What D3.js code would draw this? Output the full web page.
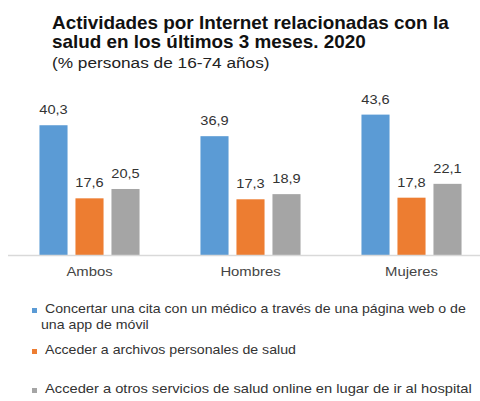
<!DOCTYPE html>
<html>
<head>
<meta charset="utf-8">
<script src="https://cdn.jsdelivr.net/npm/d3@7"></script>
<style>
  html, body { margin: 0; padding: 0; background: #fff; }
  svg { display: block; font-family: 'Liberation Sans', Arial, sans-serif; }
</style>
</head>
<body>
<div id="chart"></div>
<script>
// datos ---------------------------------------------------------------
const categorias = ['Ambos', 'Hombres', 'Mujeres'];
const series = ['cita', 'archivos', 'otros'];
const valoresCita = [40.3, 36.9, 43.6];
const valoresArchivos = [17.6, 17.3, 17.8];
const valoresOtros = [20.5, 18.9, 22.1];
const leyenda = [
  ['Concertar una cita con un médico a través de una página web o de', 'una app de móvil'],
  ['Acceder a archivos personales de salud'],
  ['Acceder a otros servicios de salud online en lugar de ir al hospital']
];
const colores = ['#5B9BD5', '#ED7D31', '#A5A5A5'];

const width = 480;
const height = 401;
const svg = d3.select('#chart').append('svg')
  .attr('width', width)
  .attr('height', height);

// el texto del original está algo ensanchado
const texto = (parent, x, y, sx) => parent.append('text')
  .attr('transform', 'translate(' + x + ',' + y + ') scale(' + sx + ',1)');

// título ----------------------------------------------------------------
texto(svg, 52, 29, 1.05)
  .attr('font-size', '18px').attr('font-weight', 'bold').attr('fill', '#111')
  .text('Actividades por Internet relacionadas con la');
texto(svg, 52, 48, 1.05)
  .attr('font-size', '18px').attr('font-weight', 'bold').attr('fill', '#111')
  .text('salud en los últimos 3 meses. 2020');
texto(svg, 52, 68, 1.15)
  .attr('font-size', '15px').attr('fill', '#222')
  .text('(% personas de 16-74 años)');

// escalas ---------------------------------------------------------------
const datos = categorias.map((c, i) => ({
  cat: c,
  valores: [valoresCita[i], valoresArchivos[i], valoresOtros[i]]
}));
const x0 = d3.scaleBand().domain(categorias).range([9, 492]);
const x1 = d3.scaleBand().domain(series).range([-54, 54]).paddingInner(0.22).paddingOuter(0.11);
const y = d3.scaleLinear().domain([0, 50]).range([255, 94]);

// barras ----------------------------------------------------------------
const grupos = svg.selectAll('.grupo')
  .data(datos)
  .enter()
  .append('g')
  .attr('class', 'grupo')
  .attr('transform', d => 'translate(' + (x0(d.cat) + x0.bandwidth() / 2) + ',0)');

grupos.selectAll('rect')
  .data(d => d.valores.map((v, i) => ({ s: series[i], v: v, i: i })))
  .enter()
  .append('rect')
  .attr('x', d => x1(d.s))
  .attr('y', d => y(d.v))
  .attr('width', x1.bandwidth())
  .attr('height', d => y(0) - y(d.v))
  .attr('fill', d => colores[d.i]);

grupos.selectAll('.valor')
  .data(d => d.valores.map((v, i) => ({ s: series[i], v: v })))
  .enter()
  .append('text')
  .attr('class', 'valor')
  .attr('transform', d => 'translate(' + (x1(d.s) + x1.bandwidth() / 2) + ',' + (y(d.v) - 11) + ') scale(1.08,1)')
  .attr('text-anchor', 'middle')
  .attr('font-size', '13.5px')
  .attr('fill', '#333')
  .text(d => d3.format('.1f')(d.v).replace('.', ','));

// eje X -----------------------------------------------------------------
const ejeX = svg.append('g')
  .attr('transform', 'translate(0,' + y(0) + ')')
  .call(d3.axisBottom(x0).tickSize(0).tickPadding(11));
ejeX.select('.domain').attr('d', 'M8,0.5H480').attr('stroke', '#d9d9d9').attr('stroke-width', 1.5);
ejeX.selectAll('text')
  .attr('font-size', '13.5px')
  .attr('font-family', "'Liberation Sans', Arial, sans-serif")
  .attr('fill', '#444')
  .attr('transform', 'scale(1.1,1)');

// leyenda ---------------------------------------------------------------
const legendY = [313, 354, 393];
const leg = svg.selectAll('.leyenda')
  .data(leyenda)
  .enter()
  .append('g')
  .attr('class', 'leyenda')
  .attr('transform', (d, i) => 'translate(0,' + legendY[i] + ')');
leg.append('rect')
  .attr('x', 32).attr('y', -5)
  .attr('width', 5).attr('height', 5)
  .attr('fill', (d, i) => colores[i]);
leg.each(function (d, i) {
  const g = d3.select(this);
  d.forEach((linea, j) => {
    texto(g, j === 0 ? 45 : 41, j * 16, i === 2 ? 1.13 : 1.09)
      .attr('font-size', '13px')
      .attr('fill', '#333')
      .text(linea);
  });
});
</script>
</body>
</html>
